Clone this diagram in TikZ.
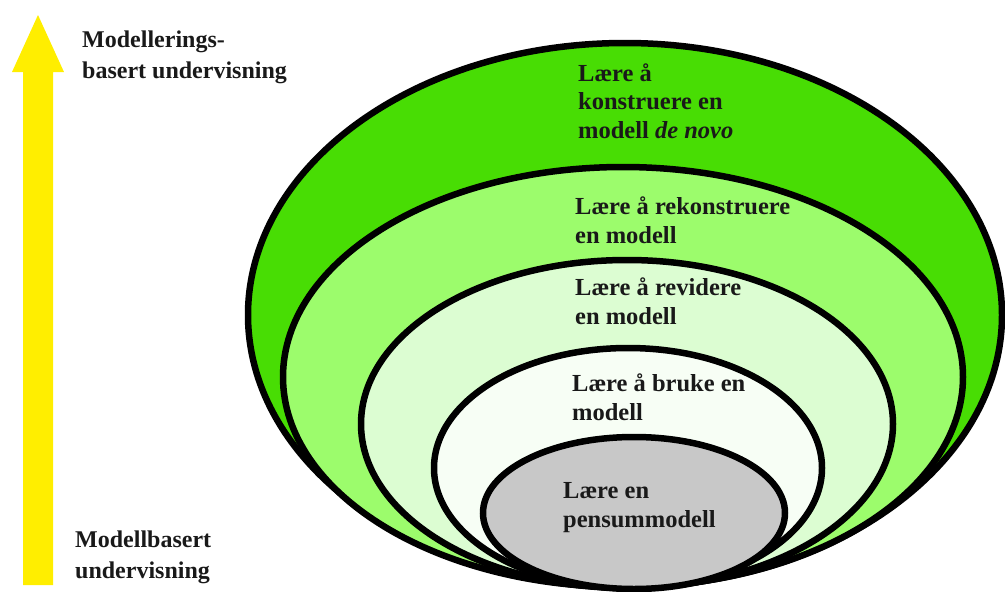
\documentclass[tikz,border=0pt]{standalone}
\usepackage{fontspec}
\setmainfont{Liberation Serif}
\begin{document}
\begin{tikzpicture}[x=1pt,y=-1pt,
  ring/.style={draw=black,line width=6.5pt},
  lbl/.style={anchor=base west,align=left,inner sep=0pt,text=black!90,
    font=\fontsize{24.5}{28.5}\selectfont\bfseries},
  sidelbl/.style={lbl,font=\fontsize{24}{31}\selectfont\bfseries}]
\definecolor{gA}{HTML}{48DD04}
\definecolor{gB}{HTML}{9CFC6C}
\definecolor{gC}{HTML}{DCFDD2}
\definecolor{gD}{HTML}{F7FEF5}
\definecolor{gE}{HTML}{C8C8C8}
\definecolor{arrowyellow}{HTML}{FFEE00}
\useasboundingbox (0,0) rectangle (1005,592);

% upward arrow on the left
\fill[arrowyellow] (23,585) -- (23,72) -- (12,72) -- (38,15) -- (64,72) -- (53,72) -- (53,585) -- cycle;
% labels are placed by the baseline of their last line
\node[sidelbl] (top) at (82,78) {Modellerings-\\basert undervisning};
\node[sidelbl] (bottom) at (75,578) {Modellbasert\\undervisning};

% nested rings, outer to inner
\draw[ring,fill=gA] (625,315) ellipse [x radius=377, y radius=272];
\draw[ring,fill=gB] (623,377) ellipse [x radius=340, y radius=210];
\draw[ring,fill=gC] (627,424) ellipse [x radius=266, y radius=164];
\draw[ring,fill=gD] (628,468) ellipse [x radius=194, y radius=120];
\draw[ring,fill=gE] (634,513) ellipse [x radius=151, y radius=76];

\node[lbl] (l1) at (578,138) {Lære å\\konstruere en\\modell \textit{de novo}};
\node[lbl] (l2) at (575,243) {Lære å rekonstruere\\en modell};
\node[lbl] (l3) at (575,324) {Lære å revidere\\en modell};
\node[lbl] (l4) at (572,420) {Lære å bruke en\\modell};
\node[lbl] (l5) at (563,527) {Lære en\\pensummodell};
\end{tikzpicture}
\end{document}
